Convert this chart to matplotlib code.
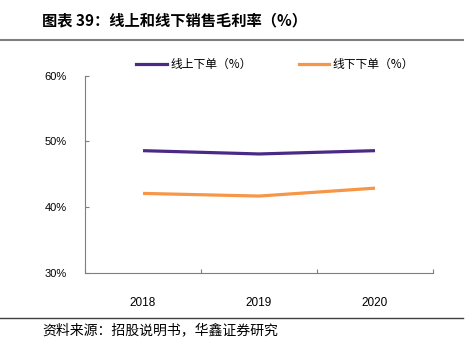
import matplotlib as mpl
mpl.use("Agg")
import matplotlib.pyplot as plt
from matplotlib.lines import Line2D

plt.rcParams['font.family'] = ['Noto Sans CJK SC', 'DejaVu Sans']

years = ["2018", "2019", "2020"]
online = [48.6, 48.1, 48.6]
offline = [42.1, 41.7, 42.9]
series_names = ["线上下单（%）", "线下下单（%）"]
y_ticks = [30, 40, 50, 60]

purple = "#4B2A86"
orange = "#F79646"
grey = "#7F7F7F"

fig = plt.figure(figsize=(4.76, 3.48), dpi=100)
ax = fig.add_axes([0.1786, 0.2155, 0.7311, 0.5670])

x = range(len(years))
ax.plot(x, online, color=purple, lw=2.3, solid_capstyle="butt")
ax.plot(x, offline, color=orange, lw=2.3, solid_capstyle="butt")

ax.set_xlim(-0.5, len(years) - 0.5)
ax.set_ylim(30, 60)
ax.set_yticks(y_ticks)
ax.set_yticklabels([f"{v}%" for v in y_ticks], fontsize=8, family="Liberation Sans")
ax.set_xticks([i - 0.5 for i in range(len(years) + 1)])
ax.set_xticklabels([])
ax.set_xticks(list(x), minor=True)
ax.set_xticklabels(years, minor=True, fontsize=8.5, family="Liberation Sans")
ax.tick_params(axis="x", which="minor", length=0, pad=17)
ax.tick_params(axis="x", which="major", direction="in", length=3, color=grey)
ax.tick_params(axis="y", direction="in", length=3, color=grey, pad=13)

for side in ["top", "right"]:
    ax.spines[side].set_visible(False)
for side in ["left", "bottom"]:
    ax.spines[side].set_color(grey)
    ax.spines[side].set_linewidth(0.8)

handles = [Line2D([], [], color=purple, lw=2.3), Line2D([], [], color=orange, lw=2.3)]
fig.legend(handles, series_names, loc="center", bbox_to_anchor=(0.578, 0.815),
           ncol=2, frameon=False, fontsize=8.5, handlelength=2.6,
           handletextpad=0.3, columnspacing=4.0)

# header and footer
fig.text(0.088, 0.942, "图表 39：线上和线下销售毛利率（%）", fontsize=11,
         fontweight="bold", va="center", ha="left")
fig.add_artist(Line2D([0, 0.973], [0.885, 0.885], color=grey, lw=1.5))
fig.add_artist(Line2D([0, 0.973], [0.086, 0.086], color="#404040", lw=1.0))
fig.text(0.088, 0.052, "资料来源：招股说明书，华鑫证券研究", fontsize=10,
         va="center", ha="left")

fig.savefig("out.png", dpi=100)
